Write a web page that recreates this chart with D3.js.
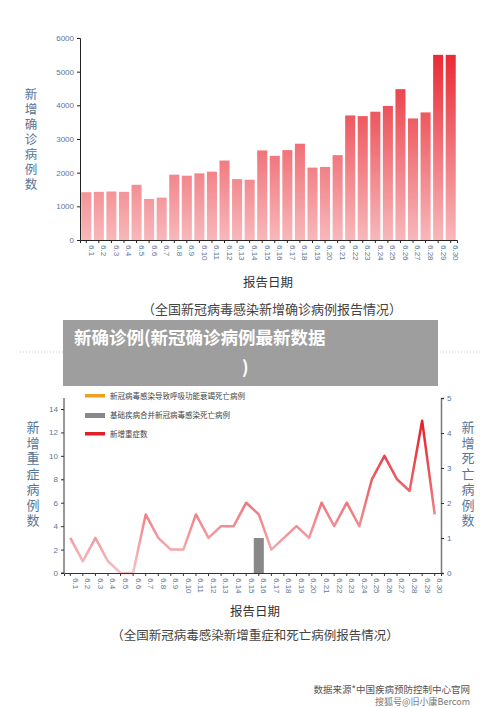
<!DOCTYPE html><html><head><meta charset="utf-8"><script src="https://cdn.jsdelivr.net/npm/d3@7"></script>
<style>body{margin:0;background:#fff}svg{font-family:"Noto Sans CJK SC","Noto Sans",sans-serif}</style></head><body><svg id="c" width="500" height="708"></svg><script>
const dates=d3.range(1,31).map(d=>"6."+d);
const confirmed=[1420,1430,1440,1430,1640,1220,1260,1940,1910,1980,2030,2360,1810,1790,2660,2500,2670,2860,2150,2170,2520,3700,3680,3810,3980,4480,3610,3790,5500,5500];
const severe=[3,1,3,1,0,0,5,3,2,2,5,3,4,4,6,5,2,3,4,3,6,4,6,4,8,10,8,7,13,5];
const deathsBasic=[0,0,0,0,0,0,0,0,0,0,0,0,0,0,0,1,0,0,0,0,0,0,0,0,0,0,0,0,0,0];
const topTicks=[0,1000,2000,3000,4000,5000,6000];
const leftTicks=[0,2,4,6,8,10,12,14];
const rightTicks=[0,1,2,3,4,5];
const legend=["新冠病毒感染导致呼吸功能衰竭死亡病例","基础疾病合并新冠病毒感染死亡病例","新增重症数"];
const svg=d3.select("#c");
const axisCol="#5a7596";
const defs=svg.append("defs");
const x1=d3.scaleBand().domain(dates).range([80,457]).paddingInner(0.2).paddingOuter(0.1);
const y1=d3.scaleLinear().domain([0,6000]).range([240,38]);
const g1=defs.append("linearGradient").attr("id","g1").attr("gradientUnits","userSpaceOnUse").attr("x1",0).attr("x2",0).attr("y1",240).attr("y2",40);
g1.append("stop").attr("offset",0).attr("stop-color","#f7b8bb");g1.append("stop").attr("offset",1).attr("stop-color","#e8202a");
svg.append("g").selectAll("rect").data(confirmed).join("rect").attr("x",(d,i)=>x1(dates[i])).attr("width",x1.bandwidth()).attr("y",d=>y1(d)).attr("height",d=>240-y1(d)).attr("fill","url(#g1)");
const ay=svg.append("g").attr("transform","translate(80,0)").call(d3.axisLeft(y1).tickValues(topTicks).tickFormat(d3.format("d")).tickSize(3));
const ax=svg.append("g").attr("transform","translate(0,240)").call(d3.axisBottom(x1).tickSize(3));
[ay,ax].forEach(a=>{a.select(".domain").attr("stroke","#222");a.selectAll("line").attr("stroke","#222");a.selectAll("text").attr("fill",axisCol).attr("font-size",8);});
ax.selectAll("text").attr("transform","rotate(90)").attr("text-anchor","start").attr("dy","-0.3em").attr("x",5).attr("y",0);
function vtext(t,x,y,size,gap){svg.append("text").attr("x",x).attr("y",y).attr("fill",axisCol).attr("font-size",size)
 .style("writing-mode","vertical-rl").style("text-orientation","upright").attr("letter-spacing",gap).text(t);}
vtext("新增确诊病例数",31,88,12.5,2.5);
svg.append("text").attr("x",268).attr("y",287).attr("text-anchor","middle").attr("font-size",12.5).attr("fill","#333").text("报告日期");
svg.append("text").attr("x",272).attr("y",314).attr("text-anchor","middle").attr("font-size",13).attr("fill","#444").text("（全国新冠病毒感染新增确诊病例报告情况）");
svg.append("line").attr("x1",20).attr("x2",480).attr("y1",352).attr("y2",352).attr("stroke","#ccc").attr("stroke-dasharray","1,2");
svg.append("rect").attr("x",63).attr("y",320).attr("width",375).attr("height",66).attr("fill","#999").attr("opacity",0.95);
svg.append("text").attr("x",74).attr("y",344).attr("font-size",17.5).attr("font-weight","bold").attr("fill","#fff").text("新确诊例(新冠确诊病例最新数据");
svg.append("text").attr("x",242).attr("y",374).attr("font-size",17.5).attr("font-weight","bold").attr("fill","#fff").text(")");
const x2=d3.scaleBand().domain(dates).range([64,441]).padding(0);
const y2=d3.scaleLinear().domain([0,14]).range([573,409]);
const y3=d3.scaleLinear().domain([0,5]).range([573,398]);
svg.append("g").selectAll("rect").data(deathsBasic).join("rect").attr("x",(d,i)=>x2(dates[i])+x2.bandwidth()*0.1).attr("width",x2.bandwidth()*0.8).attr("y",d=>y3(d)).attr("height",d=>573-y3(d)).attr("fill","#888");
const g2=defs.append("linearGradient").attr("id","g2").attr("gradientUnits","userSpaceOnUse").attr("x1",0).attr("x2",0).attr("y1",573).attr("y2",420);
g2.append("stop").attr("offset",0).attr("stop-color","#f7c0c2");g2.append("stop").attr("offset",1).attr("stop-color","#e31e27");
svg.append("path").datum(severe).attr("fill","none").attr("stroke","url(#g2)").attr("stroke-width",2.5).attr("stroke-linejoin","round")
 .attr("d",d3.line().x((d,i)=>x2(dates[i])+x2.bandwidth()/2).y(d=>y2(d)));
const bl=svg.append("g").attr("transform","translate(64,0)").call(d3.axisLeft(y2).tickValues(leftTicks).tickSize(3));
const br=svg.append("g").attr("transform","translate(441,0)").call(d3.axisRight(y3).tickValues(rightTicks).tickFormat(d3.format("d")).tickSize(3));
const bx=svg.append("g").attr("transform","translate(0,573)").call(d3.axisBottom(x2).tickSize(3));
bl.select(".domain").attr("d","M-3,573H0V398");
[bl,br,bx].forEach(a=>{a.select(".domain").attr("stroke","#333");a.selectAll("line").attr("stroke","#333");a.selectAll("text").attr("fill",axisCol).attr("font-size",8);});
br.select(".domain").attr("stroke","#777").attr("stroke-width",1.5);
bx.selectAll("text").attr("transform","rotate(90)").attr("text-anchor","start").attr("dy","-0.3em").attr("x",5).attr("y",0);
const lc=["#f0a020","#888","#e02028"];
legend.forEach((t,i)=>{svg.append("rect").attr("x",85).attr("y",394+i*19).attr("width",20).attr("height",i==1?5:3.5).attr("fill",lc[i]);
 svg.append("text").attr("x",110).attr("y",399+i*19).attr("font-size",7.5).attr("fill","#444").text(t);});
vtext("新增重症病例数",33,421,13,2.5);
vtext("新增死亡病例数",468,421,13,2.5);
svg.append("text").attr("x",255).attr("y",616).attr("text-anchor","middle").attr("font-size",12.5).attr("fill","#333").text("报告日期");
svg.append("text").attr("x",255).attr("y",640).attr("text-anchor","middle").attr("font-size",12.5).attr("fill","#444").text("（全国新冠病毒感染新增重症和死亡病例报告情况）");
svg.append("text").attr("x",470).attr("y",693).attr("text-anchor","end").attr("font-size",9.5).attr("fill","#555").text("数据来源*中国疾病预防控制中心官网");
svg.append("text").attr("x",470).attr("y",705).attr("text-anchor","end").attr("font-size",9).attr("fill","#777").text("搜狐号@旧小康Bercom");
</script></body></html>
